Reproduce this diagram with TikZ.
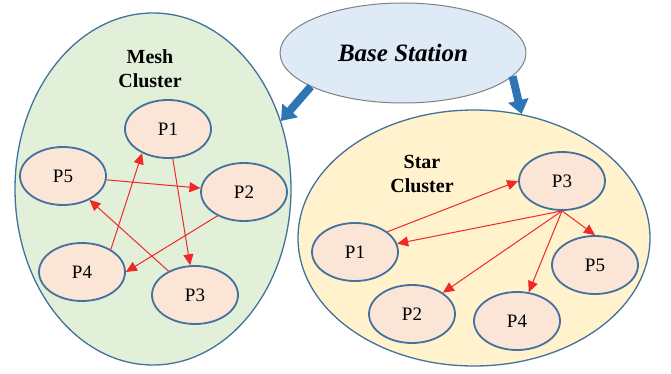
\documentclass[tikz,border=0pt]{standalone}
\usepackage{fontspec}
\setmainfont{Liberation Serif}
\usepackage{xcolor}
\usepackage{tikz}
\usetikzlibrary{arrows.meta}
\usetikzlibrary{shapes.geometric}
\definecolor{meshfill}{HTML}{E2F0D9}
\definecolor{starfill}{HTML}{FFF2CC}
\definecolor{procfill}{HTML}{FBE5D6}
\definecolor{basefill}{HTML}{DEEBF7}
\definecolor{rimblue}{HTML}{41719C}
\definecolor{feedblue}{HTML}{2E75B6}
\definecolor{linkred}{HTML}{F02828}
\begin{document}
\begin{tikzpicture}[x=1pt,y=-1pt]
      \tikzstyle{cluster}=[ellipse,draw=rimblue,line width=1.3pt,inner sep=0pt]
      \tikzstyle{proc}=[ellipse,draw=rimblue,fill=procfill,line width=1.8pt,minimum width=86pt,minimum height=58pt,inner sep=0pt,font=\fontsize{19}{22}\selectfont]
      \tikzstyle{link}=[draw=linkred,line width=1pt,-{Triangle[length=11pt,width=10pt]}]
      \tikzstyle{feed}=[draw=feedblue,line width=8pt,-{Triangle[length=14pt,width=20pt]}]
      \tikzstyle{title}=[align=center,font=\bfseries\fontsize{20}{24}\selectfont]
      \useasboundingbox (0,0) rectangle (671,374);
      % clusters
      \node[cluster,fill=meshfill,minimum width=276pt,minimum height=352pt] (mesh) at (153,189) {};
      \node[cluster,fill=starfill,minimum width=352pt,minimum height=256pt] (star) at (474,238) {};
      \node[title] (meshlbl) at (150,69) {Mesh\\Cluster};
      \node[title] (starlbl) at (422,174) {Star\\Cluster};
      % base station
      \node[ellipse,draw=gray,fill=basefill,line width=1pt,minimum width=246pt,minimum height=100pt,inner sep=0pt,
            font=\bfseries\itshape\fontsize{25}{28}\selectfont] (base) at (403,53) {Base Station};
      \draw[feed] (base.200) -- (mesh.28);
      \draw[feed] (base.348) -- (star.69);
      % mesh nodes
      \node[proc] (m1) at (168,129) {P1};
      \node[proc] (m2) at (244,192) {P2};
      \node[proc] (m3) at (195,295) {P3};
      \node[proc] (m4) at (82,272) {P4};
      \node[proc] (m5) at (63,176) {P5};
      \draw[link] (m1) -- (m3);
      \draw[link] (m5) -- (m2);
      \draw[link] (m2.222) -- (m4.east);
      \draw[link] (m4.38) -- (m1.223);
      \draw[link] (m3) -- (m5);
      % star nodes
      \node[proc] (s1) at (355,252) {P1};
      \node[proc] (s2) at (412,314) {P2};
      \node[proc] (s3) at (562,181) {P3};
      \node[proc] (s4) at (517,321) {P4};
      \node[proc] (s5) at (595,265) {P5};
      \coordinate (hub) at (s3.south);
      \draw[link] (s1.32) -- (s3.west);
      \draw[link] (hub) -- (s1);
      \draw[link] (hub) -- (s2);
      \draw[link] (hub) -- (s4);
      \draw[link] (hub) -- (s5.north);
    \end{tikzpicture}
\end{document}
